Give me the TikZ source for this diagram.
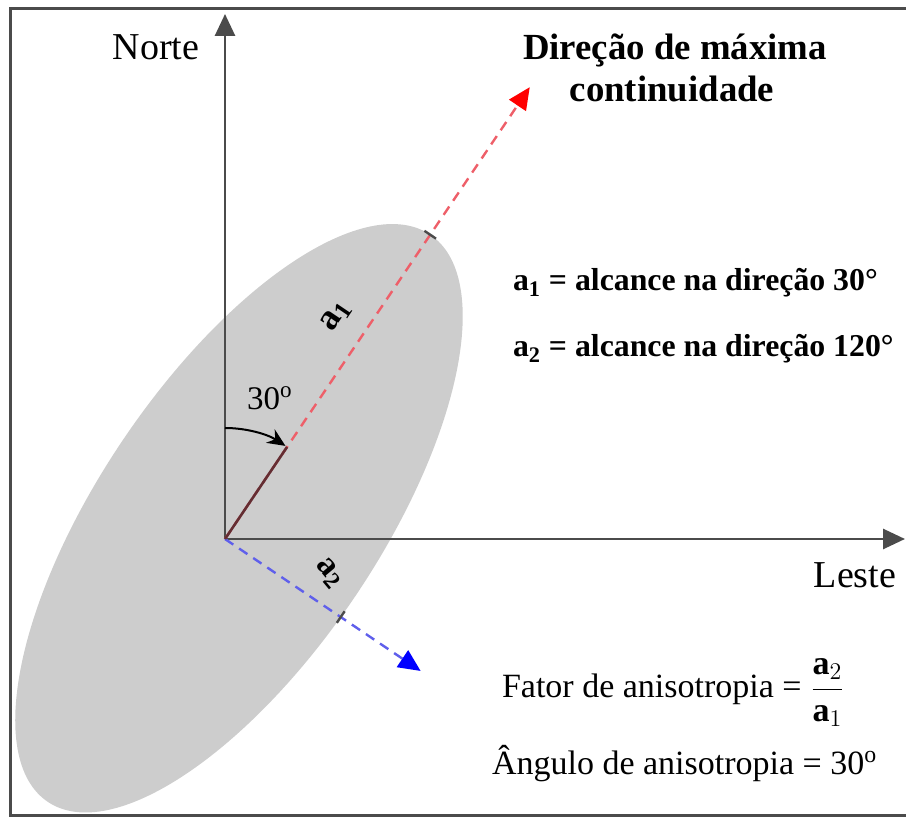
\documentclass[tikz,border=0pt]{standalone}
\usepackage{fontspec}
\setmainfont{Liberation Serif}
\usetikzlibrary{arrows.meta,calc}
\definecolor{ellgray}{RGB}{205,205,205}
\definecolor{axisgray}{RGB}{75,75,75}
\definecolor{dashred}{RGB}{238,95,105}
\definecolor{dashblue}{RGB}{95,95,235}
\definecolor{darkseg}{RGB}{100,45,50}
\begin{document}
\begin{tikzpicture}[x=0.5pt,y=0.5pt,
  axisline/.style={draw=axisgray, line width=1.4pt, -{Triangle[length=11pt,width=10pt]}},
  reddash/.style={draw=dashred, line width=1.2pt, dash pattern=on 5pt off 3.5pt,
     -{Triangle[length=11pt,width=10pt,fill=red,color=red]}},
  bluedash/.style={draw=dashblue, line width=1.2pt, dash pattern=on 5pt off 3.5pt,
     -{Triangle[length=11pt,width=10pt,fill=blue,color=blue]}},
  tickmark/.style={draw=axisgray, line width=1.2pt},
  lbl/.style={inner sep=0pt, outer sep=0pt},
  big/.style={font=\fontsize{19}{22}\selectfont},
  head/.style={font=\bfseries\fontsize{18.4}{21}\selectfont},
  defs/.style={font=\bfseries\fontsize{15.9}{19}\selectfont},
  plain/.style={font=\fontsize{17}{20}\selectfont}]
\useasboundingbox (0,0) rectangle (906,819);
% frame
\draw[axisgray, line width=1.5pt] (915,3) -- (10,3) -- (10,810) -- (915,810);
% key points
\coordinate (O) at (225,280);
\coordinate (N) at (225,805);
\coordinate (E) at (905,280);
\coordinate (R) at ($(O)+(56:545)$);
\coordinate (B) at ($(O)+(-34:236)$);
\coordinate (C) at ($(O)+(56:25)$);
\coordinate (T1) at ($(C)+(56:342)$);
\coordinate (T2) at ($(O)+(-34:139.6)$);
\coordinate (A0) at ($(O)+(90:111)$);
\coordinate (A1) at ($(O)+(56:111)$);
% ellipse
\fill[ellgray, rotate around={56:(C)}] (C) ellipse [x radius=342, y radius=140];
% axes
\draw[axisline] (O) -- (N);
\draw[axisline] (O) -- (E);
% directions
\draw[reddash] (O) -- (R);
\draw[bluedash] (O) -- (B);
\draw[darkseg, line width=1.3pt] (O) -- (A1);
% ticks
\draw[tickmark] ($(T1)+(-34:7)$) -- ($(T1)+(146:7)$);
\draw[tickmark] ($(T2)+(56:7)$) -- ($(T2)+(236:7)$);
% angle arc
\draw[black, line width=1pt, -{Stealth[length=9pt,width=8pt]}] (A0) arc[start angle=90, end angle=57, radius=111];
% labels
\node[lbl, big, anchor=base] (norte) at (156,759) {Norte};
\node[lbl, big, anchor=base] (leste) at (855,231) {Leste};
\node[lbl, head, anchor=base] (dir1) at (675,759) {Direção de máxima};
\node[lbl, head, anchor=base] (dir2) at (672,717) {continuidade};
\node[lbl, defs, anchor=base west] (def1) at (513,528) {a\textsubscript{1} = alcance na direção 30°};
\node[lbl, defs, anchor=base west] (def2) at (513,462) {a\textsubscript{2} = alcance na direção 120°};
\node[lbl, plain, font=\fontsize{16.5}{20}\selectfont, anchor=base west] (ang) at (247,409) {30\textsuperscript{o}};
\node[lbl, font=\bfseries\fontsize{18}{20}\selectfont, rotate=56] (a1lab) at (336,503) {a\textsubscript{1}};
\node[lbl, font=\bfseries\fontsize{17}{20}\selectfont, rotate=-50] (a2lab) at (329,246) {a\textsubscript{2}};
\node[lbl, plain, anchor=base west] (fator) at (502,121) {Fator de anisotropia = $\displaystyle\frac{\textbf{a}_{2}}{\textbf{a}_{1}}$};
\node[lbl, plain, anchor=base west] (angulo) at (492,44) {Ângulo de anisotropia = 30\textsuperscript{o}};
\end{tikzpicture}
\end{document}
